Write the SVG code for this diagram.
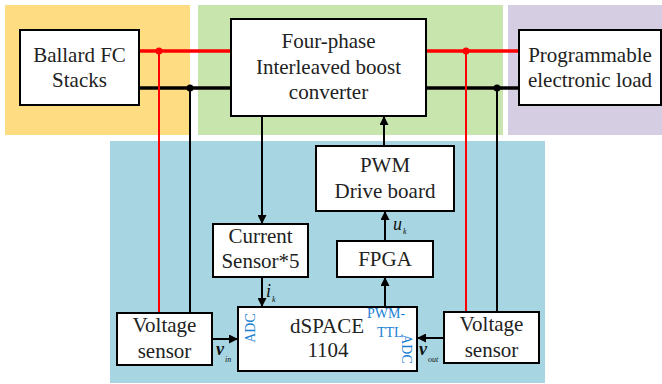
<svg xmlns="http://www.w3.org/2000/svg" width="662" height="384" viewBox="0 0 662 384" font-family="'Liberation Serif', 'Times New Roman', serif">
<defs>
<style>
.box{fill:#fff;stroke:#000;stroke-width:2}
.t{font-size:21px;fill:#222;text-anchor:middle}
.b{font-size:14px;fill:#1a7fd4}
.v{font-style:italic;fill:#111}
.red{stroke:#ff0000;fill:none}
.blk{stroke:#000;fill:none}
</style>
<marker id="ah" viewBox="0 0 10 10" refX="10" refY="5" markerWidth="10" markerHeight="9" markerUnits="userSpaceOnUse" orient="auto">
<path d="M0,0 L10,5 L0,10 z" fill="#000"/>
</marker>
</defs>
<rect width="662" height="384" fill="#fff"/>
<g id="backgrounds">
<rect x="5" y="5" width="185" height="130" fill="#fedd82"/>
<rect x="198" y="5" width="305" height="130" fill="#c9e5ae"/>
<rect x="508" y="5" width="154" height="130" fill="#d5cee2"/>
<rect x="110" y="141" width="435" height="242" fill="#a7d6e2"/>
</g>
<g id="connectors">
<line class="red" x1="139" y1="51" x2="231" y2="51" stroke-width="3.5"/>
<line class="blk" x1="139" y1="88" x2="231" y2="88" stroke-width="3.5"/>
<line class="red" x1="426" y1="51" x2="519" y2="51" stroke-width="3.5"/>
<line class="blk" x1="426" y1="88" x2="519" y2="88" stroke-width="3.5"/>
<line class="red" x1="159" y1="51" x2="159" y2="313" stroke-width="2"/>
<line class="blk" x1="190" y1="88" x2="190" y2="313" stroke-width="2"/>
<line class="red" x1="466" y1="51" x2="466" y2="312" stroke-width="2"/>
<line class="blk" x1="497" y1="88" x2="497" y2="312" stroke-width="2"/>
<circle cx="159" cy="51" r="3.5" fill="#ff0000"/>
<circle cx="190" cy="88" r="3.5" fill="#000"/>
<circle cx="466" cy="51" r="3.5" fill="#ff0000"/>
<circle cx="497" cy="88" r="3.5" fill="#000"/>
<line class="blk" x1="262" y1="116" x2="262" y2="224" stroke-width="2" marker-end="url(#ah)"/>
<line class="blk" x1="384" y1="146" x2="384" y2="116" stroke-width="2" marker-end="url(#ah)"/>
<line class="blk" x1="385" y1="241" x2="385" y2="211" stroke-width="2" marker-end="url(#ah)"/>
<line class="blk" x1="385" y1="307" x2="385" y2="277" stroke-width="2" marker-end="url(#ah)"/>
<line class="blk" x1="262" y1="277" x2="262" y2="307" stroke-width="2" marker-end="url(#ah)"/>
<line class="blk" x1="212" y1="339" x2="238" y2="339" stroke-width="2" marker-end="url(#ah)"/>
<line class="blk" x1="444" y1="338" x2="417" y2="338" stroke-width="2" marker-end="url(#ah)"/>
<text class="v" x="266" y="297" font-size="18">i</text>
<text class="v" x="272" y="302" font-size="8">k</text>
<text class="v" x="393" y="230" font-size="18">u</text>
<text class="v" x="403" y="234" font-size="8">k</text>
<text class="v" x="216" y="355" font-size="18" font-weight="bold">v</text>
<text class="v" x="225" y="362" font-size="8">in</text>
<text class="v" x="419" y="355" font-size="18" font-weight="bold">v</text>
<text class="v" x="428" y="362" font-size="8">out</text>
</g>
<g id="ballard">
<rect class="box" x="20" y="30" width="119" height="75"/>
<text class="t" x="79.5" y="62">Ballard FC</text>
<text class="t" x="79.5" y="87">Stacks</text>
</g>
<g id="converter">
<rect class="box" x="231" y="19" width="195" height="97"/>
<text class="t" x="328.5" y="48">Four-phase</text>
<text class="t" x="328.5" y="74">Interleaved boost</text>
<text class="t" x="328.5" y="99">converter</text>
</g>
<g id="load">
<rect class="box" x="519" y="30" width="142" height="75"/>
<text class="t" x="590" y="62">Programmable</text>
<text class="t" x="590" y="87">electronic load</text>
</g>
<g id="pwm">
<rect class="box" x="316" y="146" width="138" height="65"/>
<text class="t" x="385" y="172">PWM</text>
<text class="t" x="385" y="198">Drive board</text>
</g>
<g id="fpga">
<rect class="box" x="337" y="241" width="96" height="36"/>
<text class="t" x="385" y="266">FPGA</text>
</g>
<g id="current">
<rect class="box" x="213" y="224" width="95" height="53"/>
<text class="t" x="260.5" y="243">Current</text>
<text class="t" x="260.5" y="268">Sensor*5</text>
</g>
<g id="vs-left">
<rect class="box" x="117" y="313" width="95" height="52"/>
<text class="t" x="164.5" y="332">Voltage</text>
<text class="t" x="164.5" y="358">sensor</text>
</g>
<g id="vs-right">
<rect class="box" x="444" y="312" width="95" height="51"/>
<text class="t" x="491.5" y="331">Voltage</text>
<text class="t" x="491.5" y="357">sensor</text>
</g>
<g id="dspace">
<rect class="box" x="238" y="307" width="179" height="64"/>
<text class="t" x="327" y="333">dSPACE</text>
<text class="t" x="328" y="357">1104</text>
<text class="b" x="367" y="318">PWM-</text>
<text class="b" x="377" y="337">TTL</text>
<text class="b" transform="translate(255,328) rotate(-90)" text-anchor="middle">ADC</text>
<text class="b" transform="translate(402,349) rotate(90)" text-anchor="middle">ADC</text>
</g>
</svg>
